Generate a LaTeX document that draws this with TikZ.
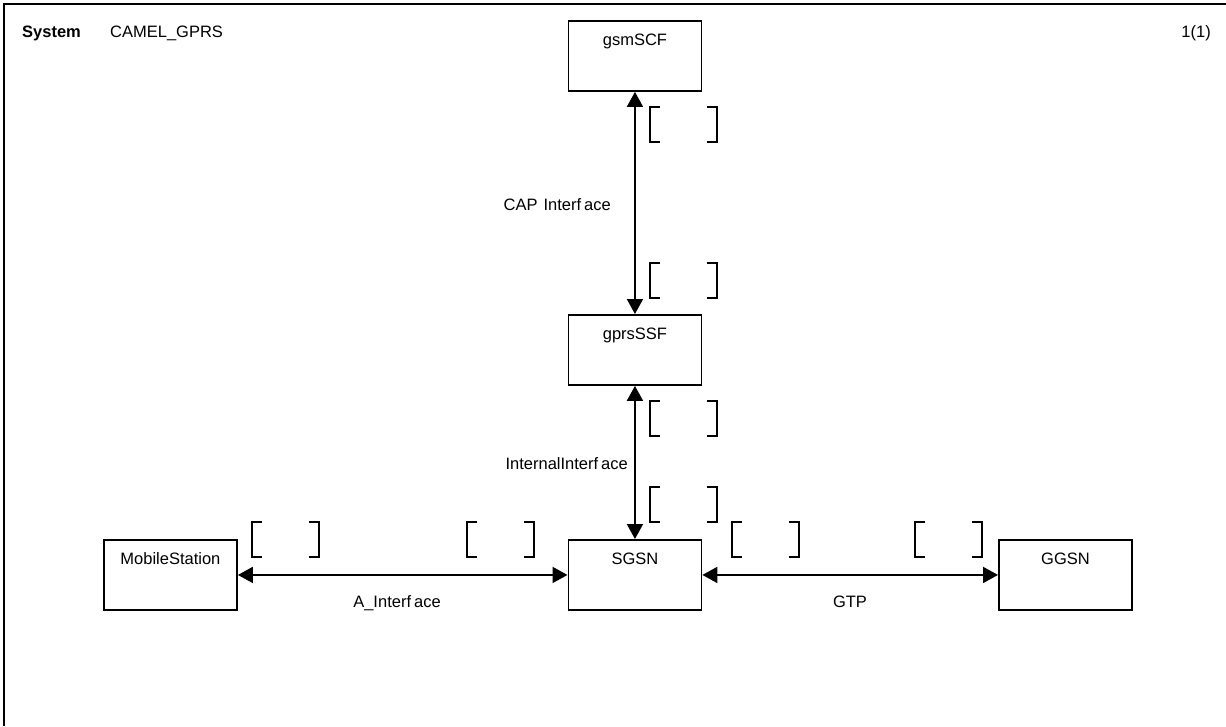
\documentclass[tikz,border=0pt]{standalone}
\usepackage{fontspec}
\setmainfont{Liberation Sans}
\usetikzlibrary{arrows.meta}
\newcommand{\fgap}{\kern3pt}
\begin{document}
\begin{tikzpicture}[x=1pt,y=-1pt,
  every node/.style={font=\fontsize{16.5}{20}\selectfont},
  box/.style={draw, line width=1.9pt, minimum width=133pt, minimum height=70pt,
    inner sep=0pt, anchor=north west,
    label={[inner sep=0pt, anchor=base, yshift=-25pt]north:#1}},
  conn/.style={line width=1.9pt,
    {Triangle[length=15pt,width=16pt]}-{Triangle[length=15pt,width=16pt]}},
  lbl/.style={inner sep=0pt},
  sigbr/.pic={
    \draw[line width=1.8pt] (10,0) -- (0,0) -- (0,35) -- (10,35);
    \draw[line width=1.8pt] (57,0) -- (67,0) -- (67,35) -- (57,35);
  }
]
\useasboundingbox (0,0) rectangle (1226,726);
\draw[line width=1.9pt] (4,726) -- (4,4) -- (1226,4);

\node[lbl, anchor=base west, font=\fontsize{16.5}{20}\selectfont\bfseries] (sys) at (22,37) {System};
\node[lbl, anchor=base west] (sysname) at (110,37) {CAMEL\_GPRS};
\node[lbl, anchor=base east] (page) at (1211,37) {1(1)};

\node[box={gsmSCF}] (gsmSCF) at (567.5,20) {};
\node[box={gprsSSF}] (gprsSSF) at (567.5,314) {};
\node[box={SGSN}] (SGSN) at (567.5,539) {};
\node[box={MobileStation}] (MS) at (103,539) {};
\node[box={GGSN}] (GGSN) at (998,539) {};

\draw[conn] (gsmSCF.south) -- (gprsSSF.north);
\draw[conn] (gprsSSF.south) -- (SGSN.north);
\draw[conn] (MS.east) -- (SGSN.west);
\draw[conn] (SGSN.east) -- (GGSN.west);

\node[lbl, anchor=base east] (capl) at (611,210) {CAP\kern1.5pt{} Interf\fgap ace};
\node[lbl, anchor=base east] (intl) at (628,469) {InternalInterf\fgap ace};
\node[lbl, anchor=base] (al) at (397,607) {A\_Interf\fgap ace};
\node[lbl, anchor=base] (gtpl) at (850,607) {GTP};

\pic at (650,107) {sigbr};
\pic at (650,263) {sigbr};
\pic at (650,401) {sigbr};
\pic at (650,487) {sigbr};
\pic at (252,522) {sigbr};
\pic at (467,522) {sigbr};
\pic at (732,522) {sigbr};
\pic at (915,522) {sigbr};
\end{tikzpicture}
\end{document}
